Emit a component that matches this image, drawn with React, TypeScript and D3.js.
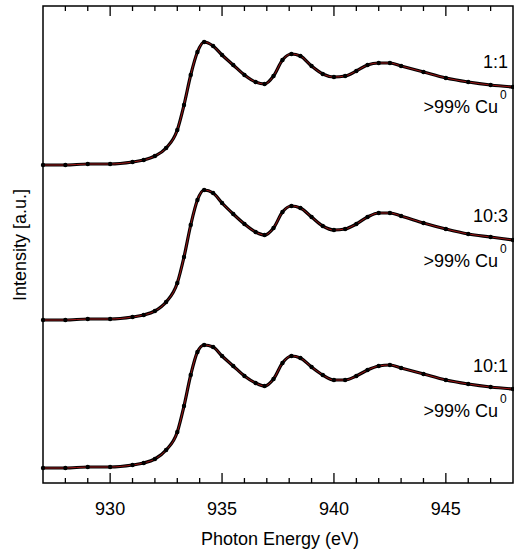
import React from "react";
import * as d3 from "d3";

const energy = [927,928,929,930,931,931.5,932,932.5,933,933.3,933.6,933.9,934.2,934.6,935,935.5,936,936.5,936.9,937.3,937.7,938.1,938.5,939,939.5,940,940.5,941,941.5,942,942.5,943,944,945,946,947,948];
// values in arbitrary units (0 = axis bottom, 477 = axis top)
const s1px = [165,165,164,164,162,160,156,148,130,105,75,52,42,46,55,65,75,82,84,76,60,54,56,66,74,77,76,71,65,63,63,66,72,78,82,85,87];
const s2px = [320,320,319,319,317,315,311,302,283,257,225,200,190,193,203,214,224,232,235,228,212,206,208,217,226,230,229,224,217,213,213,216,223,229,234,237,240];
const s3px = [468,468,467,467,465,463,459,450,432,406,375,352,345,347,356,366,376,383,386,379,363,356,358,367,375,380,380,376,370,366,365,368,374,380,384,387,389];
const series = [
  { label: "1:1", vals: s1px.map(v => 483 - v), labY: 68 },
  { label: "10:3", vals: s2px.map(v => 483 - v), labY: 222 },
  { label: "10:1", vals: s3px.map(v => 483 - v), labY: 372 },
];
const xTicks = [930, 935, 940, 945];

export default function App() {
  const W = 514, H = 549;
  const L = 43, R = 513, T = 6, B = 483;
  const x = d3.scaleLinear().domain([927, 948]).range([L, R]);
  const y = d3.scaleLinear().domain([0, 477]).range([B, T]);
  const line = d3.line<number>().x((_, i) => x(energy[i])).y(d => y(d)).curve(d3.curveMonotoneX);
  const minor = d3.range(928, 948, 1);
  const font = "Liberation Sans, Arial, sans-serif";
  return (
    <svg width={W} height={H} style={{ position: "absolute", left: 0, top: 0 }} fontFamily={font}>
      <rect x={L} y={T} width={R - L} height={B - T} fill="none" stroke="#000" strokeWidth={1.5} />
      {minor.map(t => {
        const len = t % 5 === 0 ? 10 : 5;
        return (
          <g key={t}>
            <line x1={x(t)} x2={x(t)} y1={B} y2={B - len} stroke="#000" strokeWidth={1.3} />
            <line x1={x(t)} x2={x(t)} y1={T} y2={T + len} stroke="#000" strokeWidth={1.3} />
          </g>
        );
      })}
      {xTicks.map(t => (
        <text key={t} x={x(t)} y={515} textAnchor="middle" fontSize={18}>{t}</text>
      ))}
      <text x={280} y={545} textAnchor="middle" fontSize={18}>Photon Energy (eV)</text>
      <text transform="translate(26,245) rotate(-90)" textAnchor="middle" fontSize={18}>Intensity [a.u.]</text>
      {series.map(s => (
        <g key={s.label}>
          <path d={line(s.vals) || ""} fill="none" stroke="#000" strokeWidth={3.2} />
          <path d={line(s.vals) || ""} fill="none" stroke="#e02020" strokeWidth={0.7} />
          {s.vals.map((v, i) => (
            <circle key={i} cx={x(energy[i])} cy={y(v)} r={2.2} fill="#000" />
          ))}
          <text x={508} y={s.labY} textAnchor="end" fontSize={18}>{s.label}</text>
          <text x={498} y={s.labY + 45} textAnchor="end" fontSize={18}>&gt;99% Cu</text>
          <text x={500} y={s.labY + 31} fontSize={12}>0</text>
        </g>
      ))}
    </svg>
  );
}
